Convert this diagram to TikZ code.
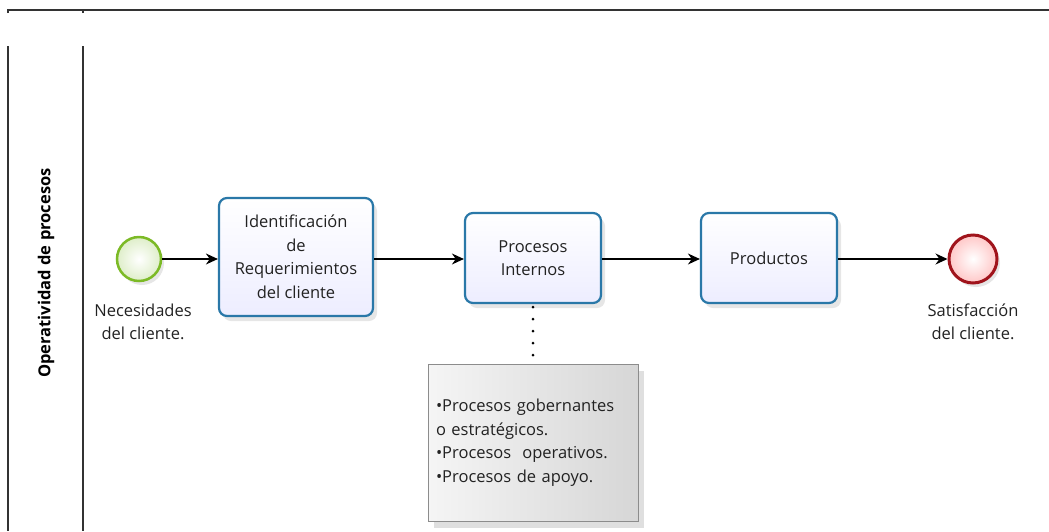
\documentclass[tikz,border=0pt]{standalone}
\usepackage{fontspec}
\setmainfont{Open Sans}
\usetikzlibrary{arrows.meta,shadows}
\definecolor{taskblue}{HTML}{2A78A8}
\definecolor{startgreen}{HTML}{7CBA26}
\definecolor{endred}{HTML}{A0141C}
\definecolor{txt}{HTML}{222222}
\begin{document}
\begin{tikzpicture}[x=1pt,y=-1pt,
  every node/.style={text=txt,font=\fontsize{16.5}{23.5}\selectfont},
  task node/.style={draw=taskblue,line width=2.2pt,rounded corners=8pt,top color=white,bottom color=blue!7,
    align=center,inner sep=0pt,drop shadow={opacity=0.2,shadow xshift=4pt,shadow yshift=-5pt}},
  flow/.style={line width=1.4pt,-{Stealth[length=12pt,width=11pt]}}]
  \useasboundingbox (0,0) rectangle (1049,531);

  % pool and lane
  \draw[line width=1.2pt,black!80] (8,13) |- (1049,10);
  \draw[line width=1.2pt,black!80] (83,13) -- (83,10);
  \draw[line width=1.2pt,black!80] (8,46) -- (8,531);
  \draw[line width=1.2pt,black!80] (83,46) -- (83,531);
  \node[rotate=90,text=black,font=\fontsize{16.5}{18}\selectfont\bfseries] (lane) at (46,273) {Operatividad de procesos};

  % events and tasks
  \node[circle,minimum size=44pt,inner sep=0pt,draw=startgreen,line width=2.5pt,inner color=white,outer color=startgreen!25,
    drop shadow={opacity=0.2,shadow xshift=3pt,shadow yshift=-4pt}] (start) at (139,259) {};
  \node (start label) at (143,322) [align=center] {Necesidades\\del cliente.};
  \node[task node,minimum width=154pt,minimum height=118pt] (ident) at (296,257) {Identificación\\de\\Requerimientos\\del cliente};
  \node[task node,minimum width=136pt,minimum height=90pt] (internos) at (533,258) {Procesos\\Internos};
  \node[task node,minimum width=136pt,minimum height=90pt] (productos) at (769,258) {Productos};
  \node[circle,minimum size=48pt,inner sep=0pt,draw=endred,line width=3pt,inner color=white,outer color=red!22,
    drop shadow={opacity=0.2,shadow xshift=3pt,shadow yshift=-4pt}] (fin) at (973,259) {};
  \node (fin label) at (973,322) [align=center] {Satisfacción\\del cliente.};

  % annotation
  \node[draw=black!45,line width=1pt,minimum width=210pt,minimum height=157pt,text width=194pt,align=left,inner sep=8pt,
    left color=black!4,right color=black!16,drop shadow={opacity=0.25,shadow xshift=6pt,shadow yshift=-7pt}] (notas) at (533,442.5)
    {•Procesos gobernantes\\o estratégicos.\\•Procesos \ operativos.\\•Procesos de apoyo.};

  \draw[flow] (start) -- (ident.west |- start);
  \draw[flow] (ident.east |- start) -- (internos.west |- start);
  \draw[flow] (internos.east |- start) -- (productos.west |- start);
  \draw[flow] (productos.east |- start) -- (fin);
  \draw[line width=3pt,line cap=round,dash pattern=on 0pt off 12pt] (internos.south) ++(0,3) -- (notas.north);
\end{tikzpicture}
\end{document}
